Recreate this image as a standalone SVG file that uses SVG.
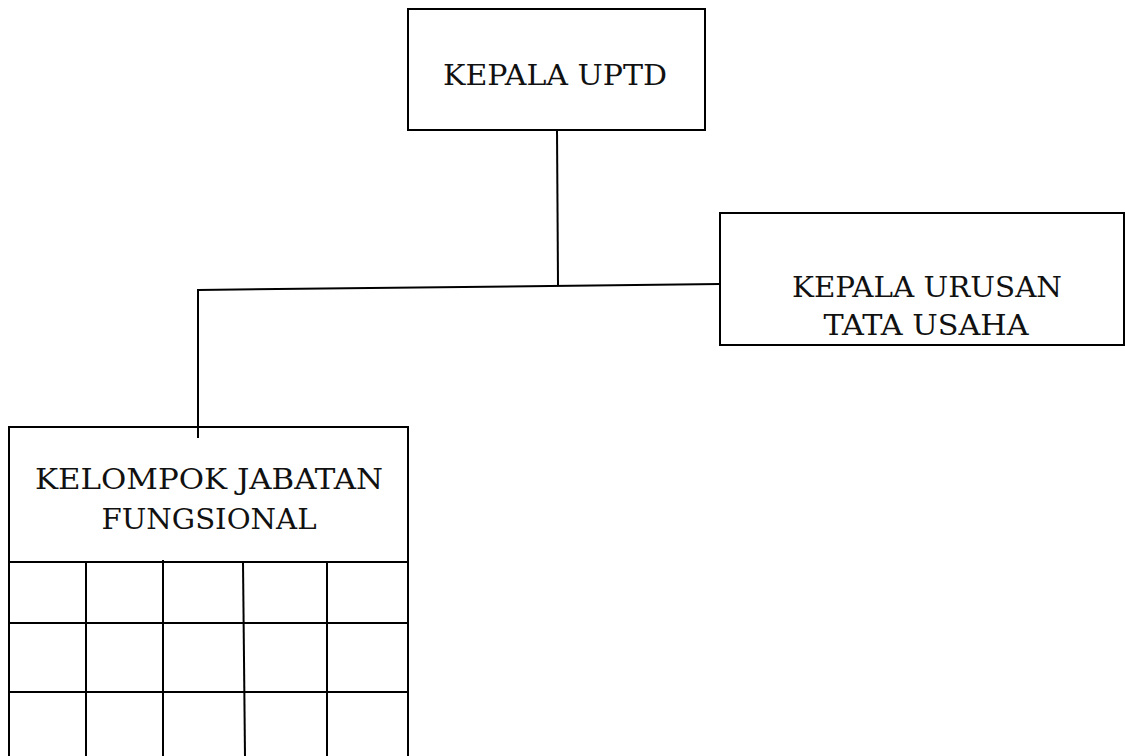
<svg xmlns="http://www.w3.org/2000/svg" width="1125" height="756" viewBox="0 0 1125 756">
<style>
.box{fill:#fff;stroke:#000;stroke-width:2}
.ln{fill:none;stroke:#000;stroke-width:2}
.t{font-family:"DejaVu Serif","Liberation Serif",serif;font-size:28.5px;fill:#111;text-anchor:middle}
</style>
<rect width="1125" height="756" fill="#fff"/>
<g id="kepala-uptd">
<rect class="box" x="408" y="9" width="297" height="121"/>
<text class="t" x="555" y="85" textLength="224" lengthAdjust="spacingAndGlyphs">KEPALA UPTD</text>
</g>
<g id="kepala-urusan">
<rect class="box" x="720" y="213" width="404" height="132"/>
<text class="t" x="927" y="297" textLength="270" lengthAdjust="spacingAndGlyphs">KEPALA URUSAN</text>
<text class="t" x="926" y="335" textLength="205" lengthAdjust="spacingAndGlyphs">TATA USAHA</text>
</g>
<g id="kelompok">
<rect class="box" x="9" y="427" width="399" height="340"/>
<text class="t" x="209" y="489" textLength="348" lengthAdjust="spacingAndGlyphs">KELOMPOK JABATAN</text>
<text class="t" x="209" y="529" textLength="215" lengthAdjust="spacingAndGlyphs">FUNGSIONAL</text>
<line class="ln" x1="9" y1="562" x2="408" y2="562"/>
<line class="ln" x1="9" y1="623" x2="408" y2="623"/>
<line class="ln" x1="9" y1="692" x2="408" y2="692"/>
<line class="ln" x1="86" y1="562" x2="86" y2="756"/>
<line class="ln" x1="163" y1="560" x2="163" y2="756"/>
<line class="ln" x1="243" y1="562" x2="245" y2="756"/>
<line class="ln" x1="327" y1="562" x2="327" y2="756"/>
</g>
<g id="connectors">
<line class="ln" x1="557" y1="130" x2="558" y2="285"/>
<line class="ln" x1="198" y1="290" x2="720" y2="284"/>
<line class="ln" x1="198" y1="289" x2="198" y2="438"/>
</g>
</svg>
